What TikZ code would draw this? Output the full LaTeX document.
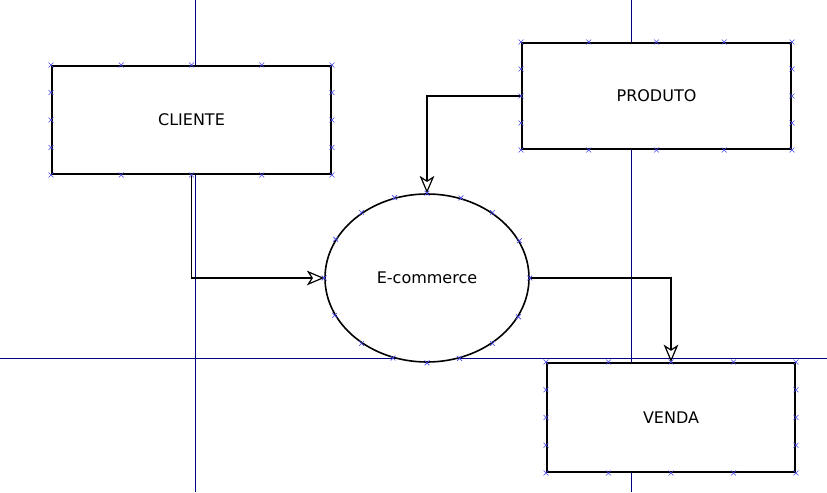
\documentclass[tikz,border=0pt]{standalone}
\usepackage{fontspec}
\setmainfont{DejaVu Sans}
\usetikzlibrary{calc,shapes.geometric,arrows.meta}
\definecolor{guidenavy}{RGB}{0,0,128}
\definecolor{pinblue}{RGB}{70,70,230}
\tikzset{
	entity/.style={draw=black, fill=white, line width=1.5pt, font=\fontsize{12}{14}\selectfont},
	process/.style={ellipse, draw=black, fill=white, line width=1.2pt, minimum width=153pt, minimum height=126pt, font=\fontsize{12}{14}\selectfont},
	guide/.style={guidenavy, line width=0.6pt},
	flow/.style={line width=1.3pt, -{Stealth[open, length=13pt, width=11pt, inset=3.5pt, line width=0.9pt]}},
	pinx/.pic={\draw[pinblue, line width=0.5pt] (-1.8pt,-1.8pt) -- (1.8pt,1.8pt) (-1.8pt,1.8pt) -- (1.8pt,-1.8pt);}
}

\begin{document}
\begin{tikzpicture}[x=0.75pt, y=-0.75pt]
		%%%%% START %%%%%
		\useasboundingbox (0, 0) rectangle (827, 492);
		
		% guides
		\draw[guide] (195, 0) -- (195, 492);
		\draw[guide] (631, 0) -- (631, 492);
		\draw[guide] (0, 358) -- (827, 358);
		
		\node[entity, minimum width=209.25pt, minimum height=81pt] (cliente) at (191.5, 120) {CLIENTE};
		\node[entity, minimum width=201.75pt, minimum height=79.5pt] (produto) at (656.5, 96) {PRODUTO};
		\node[entity, minimum width=186pt, minimum height=81.75pt] (venda) at (671, 417.5) {VENDA};
		\node[process] (ecommerce) at (427, 278) {E-commerce};
		
		\draw[flow] (cliente.south) |- (ecommerce.west);
		\draw[flow] (produto.west) -| (ecommerce.north);
		\draw[flow] (ecommerce.east) -| (venda.north);
		
		% connection points
		\foreach \n in {cliente, produto, venda} {
			\foreach \t in {0, 0.25, 0.5, 0.75, 1} {
				\path ($(\n.north west)!\t!(\n.north east)$) pic {pinx};
				\path ($(\n.south west)!\t!(\n.south east)$) pic {pinx};
			}
			\foreach \t in {0.25, 0.5, 0.75} {
				\path ($(\n.north west)!\t!(\n.south west)$) pic {pinx};
				\path ($(\n.north east)!\t!(\n.south east)$) pic {pinx};
			}
		}
		\foreach \a in {0, 22.5, ..., 337.5}
			\path (ecommerce.\a) pic {pinx};
		%%%%% END %%%%%
\end{tikzpicture}
\end{document}
